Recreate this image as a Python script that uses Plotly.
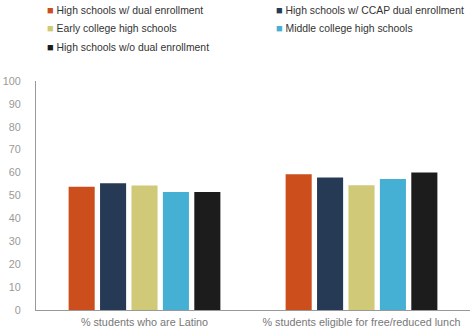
import plotly.graph_objects as go

categories = ["% students who are Latino", "% students eligible for free/reduced lunch"]
series_names = [
    "High schools w/ dual enrollment",
    "High schools w/ CCAP dual enrollment",
    "Early college high schools",
    "Middle college high schools",
    "High schools w/o dual enrollment",
]
values = [
    [53.8, 59.3],
    [55.3, 57.9],
    [54.4, 54.5],
    [51.5, 57.2],
    [51.5, 60.0],
]
colors = ["#CB4E1C", "#263A56", "#CFC978", "#45AFD4", "#1C1C1C"]

W, H = 474, 334
ML, MR, MT, MB = 36, 4, 81, 24
PW, PH = W - ML - MR, H - MT - MB

fig = go.Figure()
for name, vals, col in zip(series_names, values, colors):
    fig.add_trace(go.Bar(x=categories, y=vals, name=name, marker_color=col,
                         marker_line_width=0, showlegend=False))

# legend drawn as two-column list of colored squares + labels
col_x = [45, 274]
row_y = [10, 28.5, 47]
for i, (name, col) in enumerate(zip(series_names, colors)):
    px = col_x[i % 2]
    py = row_y[i // 2]
    fig.add_annotation(
        x=(px - ML) / PW, y=(H - MB - py) / PH, xref="paper", yref="paper",
        xanchor="left", yanchor="middle", showarrow=False,
        text=f'<span style="color:{col};font-size:11px">\u25A0</span> {name}',
        font=dict(family="Liberation Sans, Arial, sans-serif", size=10.4, color="#333333"),
    )

fig.update_layout(
    width=W, height=H,
    margin=dict(l=ML, r=MR, t=MT, b=MB),
    paper_bgcolor="white", plot_bgcolor="white",
    barmode="group", bargap=0.276, bargroupgap=0.17,
    font=dict(family="Liberation Sans, Arial, sans-serif", size=11, color="#888888"),
    showlegend=False,
    xaxis=dict(showline=True, linecolor="#999999", linewidth=1, ticks="",
               ticklabelstandoff=2,
               tickfont=dict(size=10.8, color="#777777")),
    yaxis=dict(range=[0, 100], dtick=10, showgrid=False, zeroline=False,
               showline=True, linecolor="#999999", linewidth=1, ticks="",
               ticklabelstandoff=12,
               tickfont=dict(size=10.8, color="#999999")),
)
fig.write_html("out.html")
